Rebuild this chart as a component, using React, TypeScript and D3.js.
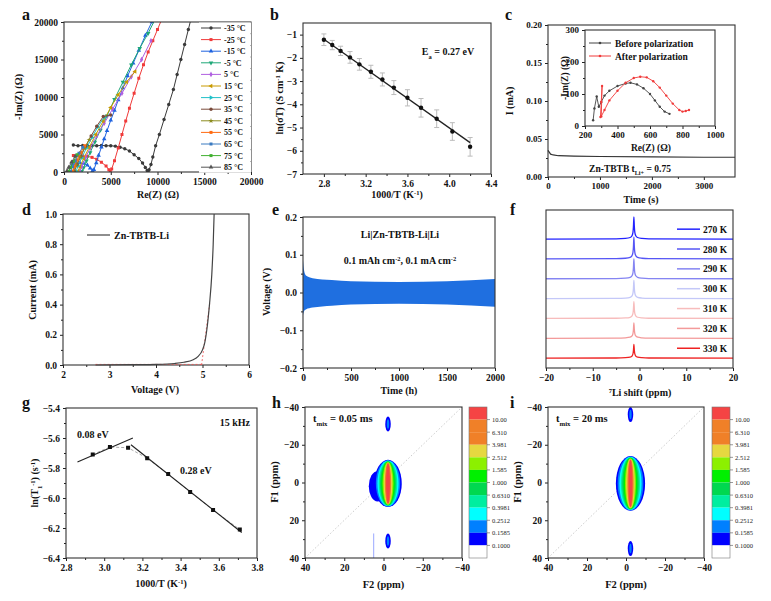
import React, { useEffect, useRef } from "react";
import * as d3 from "d3";

const FONT = "'Liberation Serif','Times New Roman',serif";

// ---- panel a: Nyquist plots (Re, -Im in ohm)
const nyqTemps = ["-35 °C", "-25 °C", "-15 °C", "-5 °C", "5 °C", "15 °C", "25 °C", "35 °C", "45 °C", "55 °C", "65 °C", "75 °C", "85 °C"];
const nyqColors = ["#3a3a3a", "#f03a3a", "#1f63e0", "#1fa878", "#b060e0", "#c89a00", "#20c0c8", "#7a4a3a", "#8c8c20", "#ff6a10", "#3a7ac0", "#40b030", "#555555"];
const nyqSymbols = [d3.symbolCircle, d3.symbolSquare, d3.symbolTriangle, d3.symbolTriangle, d3.symbolDiamond, d3.symbolTriangle, d3.symbolTriangle, d3.symbolCircle, d3.symbolStar, d3.symbolSquare, d3.symbolSquare, d3.symbolSquare, d3.symbolTriangle];
const nyqRot = [0, 0, 0, 180, 0, 270, 90, 0, 0, 0, 0, 0, 0];
const nyqData: number[][][] = [
  [[1000, 3600], [1500, 3500], [2000, 3550], [2500, 3500], [3000, 3500], [3500, 3500], [4000, 3550], [4500, 3500], [5000, 3500], [5500, 3450], [6000, 3300], [6500, 3100], [7000, 2800], [7500, 2300], [8000, 1800], [8400, 1200], [8700, 600], [8900, 200], [9000, 50], [9100, 300], [9300, 1000], [9500, 2000], [9800, 3500], [10200, 5000], [10700, 7000], [11200, 9000], [11700, 11000], [12100, 13000], [12500, 15000], [12900, 17000], [13300, 19000], [13600, 20500]],
  [[1000, 2200], [1500, 2200], [2000, 2150], [2500, 2100], [3000, 1950], [3500, 1700], [4000, 1300], [4500, 800], [4800, 300], [4950, 50], [5100, 400], [5400, 1500], [5800, 3200], [6200, 5000], [6600, 6800], [7000, 8500], [7500, 10500], [8000, 12500], [8500, 14300], [9000, 16000], [9500, 17500], [10000, 19000], [10500, 20500]],
  [[900, 1000], [1300, 1150], [1700, 1200], [2100, 1150], [2500, 900], [2800, 500], [3050, 150], [3200, 300], [3450, 1200], [3700, 2200], [4000, 3300], [4300, 4400], [4600, 5500], [5000, 6900], [5400, 8200], [5800, 9600], [6300, 11200], [6800, 12800], [7400, 14500], [8000, 16200], [8700, 18200], [9400, 20000], [9600, 20500]],
  [[1900, 100], [2100, 600], [2400, 1500], [2800, 2600], [3300, 4000], [3900, 5600], [4600, 7500], [5400, 9700], [6300, 12000], [7200, 14300], [8100, 16500], [9000, 18500], [9800, 20500]],
  [[1700, 100], [1900, 700], [2300, 1900], [2800, 3200], [3500, 4800], [4300, 6500], [5200, 8400], [6200, 10500], [7200, 12700], [8300, 15000], [9300, 17500]],
  [[1500, 100], [1700, 700], [2100, 1800], [2700, 3300], [3400, 5000], [4200, 6800], [5000, 8600], [5800, 10300], [6700, 12000], [7600, 13400]],
  [[1300, 100], [1500, 800], [1900, 1900], [2400, 3200], [3000, 4600], [3600, 6000], [4300, 7300]],
  [[1100, 100], [1400, 1000], [1800, 2100], [2300, 3400], [2900, 4800], [3500, 6100], [4200, 7400], [5000, 7600]],
  [[1000, 100], [1300, 900], [1700, 2000], [2200, 3200], [2700, 4300]],
  [[900, 100], [1100, 700], [1400, 1600], [1800, 2600], [2200, 3500]],
  [[700, 100], [900, 700], [1200, 1500], [1600, 2500], [2000, 3300]],
  [[500, 100], [700, 600], [1000, 1400], [1400, 2300]],
  [[300, 100], [500, 600], [800, 1300], [1200, 2100]],
];

// ---- panel b: Arrhenius
const arrX = [2.8, 2.88, 2.96, 3.05, 3.14, 3.25, 3.36, 3.47, 3.6, 3.73, 3.88, 4.03, 4.2];
const arrY = [-1.22, -1.45, -1.7, -1.98, -2.28, -2.6, -2.93, -3.28, -3.72, -4.15, -4.62, -5.17, -5.83];
const arrErr = [0.25, 0.2, 0.2, 0.25, 0.25, 0.28, 0.28, 0.3, 0.35, 0.4, 0.38, 0.38, 0.4];
const arrFit = [[2.8, -1.2], [4.2, -5.65]];

// ---- panel c: polarization
const polT = [0, 20, 50, 100, 200, 500, 1000, 2000, 3000, 3600];
const polI = [0.035, 0.033, 0.03, 0.029, 0.028, 0.0275, 0.027, 0.0265, 0.026, 0.026];
const eisBefore = [[250, 18], [258, 55], [272, 92], [285, 60], [300, 75], [320, 95], [350, 110], [400, 125], [450, 133], [480, 135], [520, 130], [560, 118], [600, 100], [630, 80], [660, 60], [690, 45], [720, 38]];
const eisAfter = [[295, 28], [300, 75], [305, 125], [300, 30], [320, 50], [350, 80], [400, 110], [450, 135], [500, 150], [540, 154], [580, 152], [620, 140], [660, 120], [700, 95], [740, 70], [780, 50], [800, 45], [820, 47], [840, 50]];

// ---- panel d: LSV
const lsvV = [2.7, 3.5, 4, 4.4, 4.6, 4.8, 4.9, 5.0, 5.05, 5.1, 5.15, 5.2, 5.23, 5.25];
const lsvI = [0, 0.002, 0.004, 0.01, 0.018, 0.035, 0.055, 0.1, 0.15, 0.25, 0.4, 0.6, 0.8, 1.0];

// ---- panel e: cycling envelope
const cycT = [0, 10, 30, 100, 300, 500, 1000, 1500, 2000];
const cycUp = [0.085, 0.06, 0.045, 0.038, 0.033, 0.03, 0.028, 0.03, 0.036];
const cycLo = [-0.06, -0.05, -0.045, -0.04, -0.035, -0.032, -0.03, -0.032, -0.038];

// ---- panel f: VT 7Li NMR
const nmrTemps = ["270 K", "280 K", "290 K", "300 K", "310 K", "320 K", "330 K"];
const nmrColors = ["#2222ff", "#5555f5", "#8585f2", "#c4c8f8", "#f7bcbc", "#f39a9a", "#ee2222"];
const nmrHeights = [1.12, 1.1, 1.0, 0.92, 0.85, 0.78, 0.7];
const nmrShiftX = [-20, -5, -3, -2, -1.6, -1.4, -1.3, -1.2, -1.1, -1.0, -0.8, -0.4, 0.5, 2, 20];
const nmrShape = [0, 0.01, 0.03, 0.07, 0.15, 0.3, 0.55, 1, 0.55, 0.3, 0.15, 0.07, 0.03, 0.01, 0];

// ---- panel g: T1 relaxation
const t1X = [2.94, 3.03, 3.125, 3.225, 3.335, 3.45, 3.57, 3.71];
const t1Y = [-5.71, -5.66, -5.665, -5.735, -5.84, -5.96, -6.08, -6.21];

// ---- panels h, i: 2D EXSY
const cbLabels = ["10.00", "6.310", "3.981", "2.512", "1.585", "1.000", "0.6310", "0.3981", "0.2512", "0.1585", "0.1000"];
const cbColors = ["#f54444", "#f08028", "#f08028", "#e6d840", "#8cf000", "#00f000", "#00d850", "#00eea0", "#00ffff", "#0080ff", "#0000ff", "#ffffff"];
const lvlColors = ["#0000ff", "#0080ff", "#00ffff", "#00eea0", "#00d850", "#00f000", "#8cf000", "#e6d840", "#f08028", "#f54444"];
const hRx = [7, 6.2, 5.4, 4.7, 4, 3.4, 2.8, 2.2, 1.6, 1.0];
const hRy = [12.5, 12.3, 12.1, 11.9, 11.7, 11.5, 11.3, 11.1, 10.9, 10.6];
const iRx = [7.5, 6.6, 5.7, 4.9, 4.2, 3.5, 2.8, 2.2, 1.6, 1.0];
const iRy = [14.5, 14.3, 14.1, 13.9, 13.7, 13.5, 13.3, 13.1, 12.8, 12.5];

type Sc = d3.ScaleLinear<number, number>;

function frame(g: any, x: Sc, y: Sc, xt: number[], yt: number[], fx: any, fy: any, hideY = false) {
  const [x0, x1] = x.range();
  const [y0, y1] = y.range();
  const minor = (t: number[]) => t.slice(1).map((v, i) => (v + t[i]) / 2);
  const ax = g.append("g").attr("transform", `translate(0,${y0})`);
  ax.call(d3.axisBottom(x).tickValues(xt).tickSize(3).tickSizeOuter(0).tickFormat(fx));
  g.append("g").attr("transform", `translate(0,${y0})`).call(d3.axisBottom(x).tickValues(minor(xt)).tickSize(2).tickSizeOuter(0).tickFormat(() => ""));
  if (!hideY) {
    g.append("g").attr("transform", `translate(${x0},0)`).call(d3.axisLeft(y).tickValues(yt).tickSize(3).tickSizeOuter(0).tickFormat(fy));
    g.append("g").attr("transform", `translate(${x0},0)`).call(d3.axisLeft(y).tickValues(minor(yt)).tickSize(2).tickSizeOuter(0).tickFormat(() => ""));
  }
  g.selectAll(".tick text").attr("font-family", FONT).attr("font-weight", "bold").attr("font-size", 9.5).attr("fill", "#111");
  g.selectAll(".domain").remove();
  g.selectAll(".tick line").attr("stroke", "#222");
  g.append("rect").attr("x", x0).attr("y", y1).attr("width", x1 - x0).attr("height", y0 - y1)
    .attr("fill", "none").attr("stroke", "#333").attr("stroke-width", 1.1);
}

function txt(g: any, x: number, y: number, parts: (string | [string, string])[], size = 10, anchor = "middle", rot = false) {
  const t = g.append("text").attr("font-family", FONT).attr("font-weight", "bold").attr("font-size", size)
    .attr("fill", "#111").attr("text-anchor", anchor);
  if (rot) t.attr("transform", `translate(${x},${y}) rotate(-90)`);
  else t.attr("x", x).attr("y", y);
  parts.forEach((p) => {
    if (typeof p === "string") t.append("tspan").text(p);
    else {
      const s = t.append("tspan").attr("font-size", size * 0.65).text(p[0]);
      s.attr("baseline-shift", p[1] === "sup" ? "super" : "sub");
    }
  });
  return t;
}

const App: React.FC = () => {
  const ref = useRef<SVGSVGElement>(null);

  useEffect(() => {
    if (!ref.current) return;
    const svg = d3.select(ref.current);
    svg.selectAll("*").remove();
    const defs = svg.append("defs");
    const clip = (id: string, x: Sc, y: Sc) => {
      defs.append("clipPath").attr("id", id).append("rect")
        .attr("x", x.range()[0]).attr("y", y.range()[1])
        .attr("width", x.range()[1] - x.range()[0]).attr("height", y.range()[0] - y.range()[1]);
    };
    const letters: [string, number, number][] = [["a", 22, 20], ["b", 270, 20], ["c", 505, 20], ["d", 22, 215], ["e", 272, 215], ["f", 510, 215], ["g", 22, 408], ["h", 272, 408], ["i", 510, 408]];
    letters.forEach(([l, x, y]) => txt(svg, x, y, [l], 16, "start"));

    // ---- a
    {
      const g = svg.append("g");
      const x = d3.scaleLinear().domain([0, 20000]).range([64, 251]);
      const y = d3.scaleLinear().domain([0, 20000]).range([172, 22]);
      clip("ca", x, y);
      const line = d3.line().x((d) => x(d[0])).y((d) => y(d[1]));
      const pg = g.append("g").attr("clip-path", "url(#ca)");
      nyqData.forEach((s, i) => {
        pg.append("path").attr("d", line(s as any)).attr("fill", "none").attr("stroke", nyqColors[i]).attr("stroke-width", 1);
        s.forEach((p) => pg.append("path").attr("d", d3.symbol(nyqSymbols[i], 9)()!)
          .attr("transform", `translate(${x(p[0])},${y(p[1])}) rotate(${nyqRot[i]})`).attr("fill", nyqColors[i]));
      });
      frame(g, x, y, [0, 5000, 10000, 15000, 20000], [0, 5000, 10000, 15000, 20000], d3.format("d"), d3.format("d"));
      nyqTemps.forEach((t, i) => {
        const yy = 28 + i * 11.6;
        g.append("rect").attr("x", 199).attr("y", yy - 5.5).attr("width", 52).attr("height", 11).attr("fill", "#fff");
        g.append("line").attr("x1", 201).attr("x2", 221).attr("y1", yy).attr("y2", yy).attr("stroke", nyqColors[i]);
        g.append("path").attr("d", d3.symbol(nyqSymbols[i], 9)()!).attr("transform", `translate(211,${yy}) rotate(${nyqRot[i]})`).attr("fill", nyqColors[i]);
        txt(g, 224, yy + 3, [t], 8, "start");
      });
      txt(g, 158, 198, ["Re(Z) (Ω)"], 10);
      txt(g, 22, 97, ["-Im(Z) (Ω)"], 10, "middle", true);
    }

    // ---- b
    {
      const g = svg.append("g");
      const x = d3.scaleLinear().domain([2.6, 4.4]).range([303, 491]);
      const y = d3.scaleLinear().domain([-7, -0.5]).range([174, 23]);
      frame(g, x, y, [2.8, 3.2, 3.6, 4.0, 4.4], [-7, -6, -5, -4, -3, -2, -1], d3.format(".1f"), d3.format("d"));
      arrX.forEach((v, i) => {
        g.append("line").attr("x1", x(v)).attr("x2", x(v)).attr("y1", y(arrY[i] - arrErr[i])).attr("y2", y(arrY[i] + arrErr[i])).attr("stroke", "#bbb");
        [arrY[i] - arrErr[i], arrY[i] + arrErr[i]].forEach((e) =>
          g.append("line").attr("x1", x(v) - 2.5).attr("x2", x(v) + 2.5).attr("y1", y(e)).attr("y2", y(e)).attr("stroke", "#bbb"));
      });
      g.append("line").attr("x1", x(arrFit[0][0])).attr("y1", y(arrFit[0][1])).attr("x2", x(arrFit[1][0])).attr("y2", y(arrFit[1][1])).attr("stroke", "#222").attr("stroke-width", 1.3);
      arrX.forEach((v, i) => g.append("circle").attr("cx", x(v)).attr("cy", y(arrY[i])).attr("r", 2.2).attr("fill", "#111"));
      txt(g, 448, 55, ["E", ["a", "sub"], " = 0.27 eV"], 10);
      txt(g, 397, 198, ["1000/T (K", ["-1", "sup"], ")"], 10);
      txt(g, 283, 98, ["ln(σT) (S cm", ["-1", "sup"], " K)"], 10, "middle", true);
    }

    // ---- c
    {
      const g = svg.append("g");
      const x = d3.scaleLinear().domain([0, 3600]).range([548, 735]);
      const y = d3.scaleLinear().domain([0, 0.2]).range([177, 25]);
      frame(g, x, y, [0, 1000, 2000, 3000], [0, 0.05, 0.1, 0.15, 0.2], d3.format("d"), d3.format(".2f"));
      g.append("path").attr("d", d3.line<number>().x((d) => x(d)).y((_, i) => y(polI[i]))(polT)).attr("fill", "none").attr("stroke", "#333").attr("stroke-width", 1.2);
      txt(g, 630, 172, ["Zn-TBTB  t", ["Li+", "sub"], " = 0.75"], 9.5);
      txt(g, 641, 203, ["Time (s)"], 10);
      txt(g, 513, 101, ["I (mA)"], 10, "middle", true);
      const xi = d3.scaleLinear().domain([200, 1000]).range([585, 715]);
      const yi = d3.scaleLinear().domain([0, 300]).range([126, 30]);
      g.append("rect").attr("x", 585).attr("y", 30).attr("width", 130).attr("height", 96).attr("fill", "#fff");
      frame(g, xi, yi, [200, 400, 600, 800, 1000], [0, 100, 200, 300], d3.format("d"), d3.format("d"));
      g.selectAll(".tick text").attr("font-size", 9);
      const li = d3.line().x((d) => xi(d[0])).y((d) => yi(d[1]));
      [[eisBefore, "#444"], [eisAfter, "#f03a3a"]].forEach(([s, c]: any, k) => {
        g.append("path").attr("d", li(s)).attr("fill", "none").attr("stroke", c).attr("stroke-width", 0.9);
        s.forEach((p: number[]) => g.append("circle").attr("cx", xi(p[0])).attr("cy", yi(p[1])).attr("r", 1.2).attr("fill", c));
        const yy = 43 + k * 13;
        g.append("line").attr("x1", 589).attr("x2", 611).attr("y1", yy).attr("y2", yy).attr("stroke", c);
        g.append("circle").attr("cx", 600).attr("cy", yy).attr("r", 1.3).attr("fill", c);
        txt(g, 615, yy + 3.5, [k === 0 ? "Before polarization" : "After polarization"], 9.5, "start");
      });
      txt(g, 651, 151, ["Re(Z) (Ω)"], 9.5);
      txt(g, 568, 78, ["-Im(Z) (Ω)"], 9.5, "middle", true);
    }

    // ---- d
    {
      const g = svg.append("g");
      const x = d3.scaleLinear().domain([2, 6]).range([63, 249]);
      const y = d3.scaleLinear().domain([0, 1]).range([365, 214]);
      frame(g, x, y, [2, 3, 4, 5, 6], [0, 0.2, 0.4, 0.6, 0.8, 1.0], d3.format("d"), d3.format(".1f"));
      g.append("line").attr("x1", x(2.7)).attr("x2", x(5.02)).attr("y1", y(0.004)).attr("y2", y(0.004)).attr("stroke", "#f05050").attr("stroke-dasharray", "2,2").attr("stroke-width", 0.8);
      g.append("line").attr("x1", x(4.98)).attr("x2", x(5.16)).attr("y1", y(0)).attr("y2", y(0.42)).attr("stroke", "#f05050").attr("stroke-dasharray", "2,2").attr("stroke-width", 0.8);
      g.append("path").attr("d", d3.line<number>().x((d) => x(d)).y((_, i) => y(lsvI[i])).curve(d3.curveMonotoneX)(lsvV)).attr("fill", "none").attr("stroke", "#444").attr("stroke-width", 1.2);
      g.append("line").attr("x1", 87).attr("x2", 110).attr("y1", 235).attr("y2", 235).attr("stroke", "#444").attr("stroke-width", 1.2);
      txt(g, 114, 239, ["Zn-TBTB-Li"], 10, "start");
      txt(g, 155, 393, ["Voltage (V)"], 10);
      txt(g, 36, 290, ["Current (mA)"], 10, "middle", true);
    }

    // ---- e
    {
      const g = svg.append("g");
      const x = d3.scaleLinear().domain([0, 2000]).range([303, 495]);
      const y = d3.scaleLinear().domain([-0.2, 0.2]).range([368, 217]);
      g.append("path").attr("d", d3.area<number>().x((d) => x(d)).y0((_, i) => y(cycLo[i])).y1((_, i) => y(cycUp[i])).curve(d3.curveMonotoneX)(cycT)).attr("fill", "#1f6fe0");
      frame(g, x, y, [0, 500, 1000, 1500, 2000], [-0.2, -0.1, 0, 0.1, 0.2], d3.format("d"), d3.format(".1f"));
      txt(g, 400, 238, ["Li|Zn-TBTB-Li|Li"], 10);
      txt(g, 400, 264, ["0.1 mAh cm", ["-2", "sup"], ", 0.1 mA cm", ["-2", "sup"]], 10);
      txt(g, 399, 394, ["Time (h)"], 10);
      txt(g, 270, 292, ["Voltage (V)"], 10, "middle", true);
    }

    // ---- f
    {
      const g = svg.append("g");
      const x = d3.scaleLinear().domain([-20, 20]).range([546, 733]);
      const y = d3.scaleLinear().domain([0, 8]).range([368, 210]);
      nmrTemps.forEach((t, k) => {
        const base = 0.5 + (6 - k) * 1.005;
        g.append("path").attr("d", d3.line<number>().x((d) => x(d)).y((_, i) => y(base + nmrShape[i] * nmrHeights[k])).curve(d3.curveMonotoneX)(nmrShiftX))
          .attr("fill", "none").attr("stroke", nmrColors[k]).attr("stroke-width", 1.3);
        const yy = y(base + 0.5);
        g.append("line").attr("x1", 677).attr("x2", 700).attr("y1", yy).attr("y2", yy).attr("stroke", nmrColors[k]).attr("stroke-width", 1.5);
        txt(g, 703, yy + 3.5, [t], 9.5, "start");
      });
      frame(g, x, y, [-20, -10, 0, 10, 20], [], d3.format("d"), d3.format("d"), true);
      txt(g, 640, 396, [["7", "sup"], "Li shift (ppm)"], 10);
    }

    // ---- g
    {
      const g = svg.append("g");
      const x = d3.scaleLinear().domain([2.8, 3.8]).range([66, 257]);
      const y = d3.scaleLinear().domain([-6.4, -5.4]).range([558, 408]);
      frame(g, x, y, [2.8, 3.0, 3.2, 3.4, 3.6, 3.8], [-6.4, -6.2, -6.0, -5.8, -5.6, -5.4], d3.format(".1f"), d3.format(".1f"));
      g.append("path").attr("d", d3.line<number>().x((d) => x(d)).y((_, i) => y(t1Y[i]))(t1X)).attr("fill", "none").attr("stroke", "#aaa").attr("stroke-dasharray", "3,2");
      g.append("line").attr("x1", x(2.86)).attr("y1", y(-5.76)).attr("x2", x(3.15)).attr("y2", y(-5.6)).attr("stroke", "#222").attr("stroke-width", 1.1);
      g.append("line").attr("x1", x(3.14)).attr("y1", y(-5.645)).attr("x2", x(3.72)).attr("y2", y(-6.23)).attr("stroke", "#222").attr("stroke-width", 1.1);
      t1X.forEach((v, i) => g.append("rect").attr("x", x(v) - 2).attr("y", y(t1Y[i]) - 2).attr("width", 4).attr("height", 4).attr("fill", "#111"));
      txt(g, 250, 426, ["15 kHz"], 10, "end");
      txt(g, 77, 438, ["0.08 eV"], 10, "start");
      txt(g, 180, 474, ["0.28 eV"], 10, "start");
      txt(g, 161, 587, ["1000/T (K", ["-1", "sup"], ")"], 10);
      txt(g, 38, 483, ["ln(T", ["1", "sub"], ["-1", "sup"], ") (s", ["-1", "sup"], ")"], 10, "middle", true);
    }

    // ---- h, i
    const exsy = (id: string, x0: number, x1: number, cbx: number, rx: number[], ry: number[], side: number[], label: string, extra: boolean) => {
      const g = svg.append("g");
      const x = d3.scaleLinear().domain([40, -40]).range([x0, x1]);
      const y = d3.scaleLinear().domain([40, -40]).range([558, 407]);
      clip(id, x, y);
      const pg = g.append("g").attr("clip-path", `url(#${id})`);
      pg.append("line").attr("x1", x(40)).attr("y1", y(40)).attr("x2", x(-40)).attr("y2", y(-40)).attr("stroke", "#ccc").attr("stroke-dasharray", "1.5,2");
      if (extra) {
        pg.append("line").attr("x1", x(5)).attr("x2", x(5)).attr("y1", y(27)).attr("y2", y(40)).attr("stroke", "#9aa8ff").attr("stroke-width", 1);
        pg.append("ellipse").attr("cx", x(3)).attr("cy", y(2)).attr("rx", x(0) - x(4.5)).attr("ry", y(0) - y(-8)).attr("fill", "#0000ff");
      }
      rx.forEach((r, k) => pg.append("ellipse").attr("cx", x(-2.3)).attr("cy", y(0.5)).attr("rx", x(0) - x(r)).attr("ry", y(0) - y(-ry[k])).attr("fill", lvlColors[k]));
      side.forEach((s) => {
        pg.append("ellipse").attr("cx", x(-2.3)).attr("cy", y(s)).attr("rx", x(0) - x(1.4)).attr("ry", y(0) - y(-4)).attr("fill", "#0000ff");
        pg.append("ellipse").attr("cx", x(-2.3)).attr("cy", y(s)).attr("rx", x(0) - x(0.6)).attr("ry", y(0) - y(-2.5)).attr("fill", "#0080ff");
      });
      frame(g, x, y, [40, 20, 0, -20, -40], [40, 20, 0, -20, -40], d3.format("d"), d3.format("d"));
      const bh = (558 - 407) / 12;
      cbColors.forEach((c, k) => g.append("rect").attr("x", cbx).attr("y", 407 + k * bh).attr("width", 18).attr("height", bh).attr("fill", c));
      g.append("rect").attr("x", cbx).attr("y", 407).attr("width", 18).attr("height", 151).attr("fill", "none").attr("stroke", "#777").attr("stroke-width", 0.6);
      cbLabels.forEach((l, k) => {
        const yy = 407 + (k + 1) * bh;
        g.append("line").attr("x1", cbx + 18).attr("x2", cbx + 21).attr("y1", yy).attr("y2", yy).attr("stroke", "#555").attr("stroke-width", 0.6);
        g.append("text").attr("x", cbx + 23).attr("y", yy + 2.5).attr("font-family", FONT).attr("font-size", 6.5).attr("fill", "#222").text(l);
      });
      txt(g, x0 + 8, 422, ["t", ["mix", "sub"], label], 10.5, "start");
      txt(g, (x0 + x1) / 2, 588, ["F2 (ppm)"], 10.5);
      txt(g, x0 - 27, 482, ["F1 (ppm)"], 10.5, "middle", true);
    };
    exsy("ch", 305, 462, 469, hRx, hRy, [-31, 31], " = 0.05 ms", true);
    exsy("ci", 548, 704, 712, iRx, iRy, [-36, 35], " = 20 ms", false);
  }, []);

  return <svg ref={ref} width={771} height={601} style={{ position: "absolute", left: 0, top: 0, background: "#fff" }} />;
};

export default App;
